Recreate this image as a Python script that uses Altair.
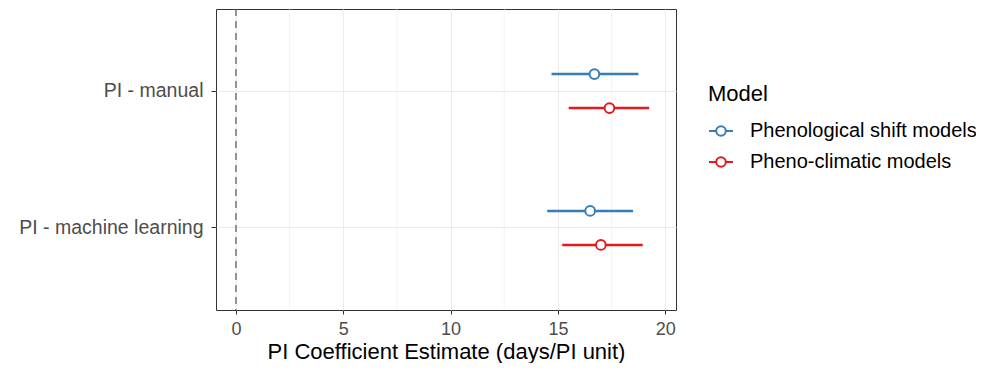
import altair as alt
import pandas as pd

terms = ["PI - manual", "PI - manual", "PI - machine learning", "PI - machine learning"]
models = ["Phenological shift models", "Pheno-climatic models",
          "Phenological shift models", "Pheno-climatic models"]
estimate = [16.7, 17.4, 16.5, 17.0]
lower = [14.7, 15.5, 14.5, 15.2]
upper = [18.75, 19.25, 18.5, 18.95]

term_order = ["PI - manual", "PI - machine learning"]
model_order = ["Phenological shift models", "Pheno-climatic models"]
model_colors = ["#377EB8", "#E41A1C"]
x_ticks = [0, 5, 10, 15, 20]
minor_grid = [2.5, 7.5, 12.5, 17.5]
ref_line = [0]

df = pd.DataFrame({"term": terms, "model": models, "estimate": estimate,
                   "lower": lower, "upper": upper})
minor_df = pd.DataFrame({"x": minor_grid})
ref_df = pd.DataFrame({"x": ref_line})

FONT = "Liberation Sans"

xscale = alt.Scale(domain=[-0.93, 20.5], nice=False, zero=False)
yscale = alt.Scale(type="band", paddingInner=0.4, paddingOuter=0.3)
offscale = alt.Scale(paddingInner=0, paddingOuter=0.206)
color = alt.Color(
    "model:N", sort=model_order,
    scale=alt.Scale(domain=model_order, range=model_colors),
    legend=alt.Legend(
        title="Model", orient="none", legendX=492, legendY=75,
        symbolType="M-1,0L-0.4,0M0.4,0L1,0M0.4,0A0.4,0.4 0 1,1 -0.4,0A0.4,0.4 0 1,1 0.4,0",
        symbolSize=576, symbolStrokeWidth=2, symbolFillColor="white",
        titleFontSize=22, titleFont=FONT, titleFontWeight="normal", titleColor="black",
        labelFontSize=20, labelFont=FONT, labelColor="black", labelLimit=0,
        rowPadding=8, titlePadding=12, labelOffset=16,
    ),
)

x_enc = alt.X("estimate:Q", scale=xscale,
              axis=alt.Axis(values=x_ticks, title="PI Coefficient Estimate (days/PI unit)",
                            grid=True, gridColor="#EBEBEB", gridWidth=1,
                            domain=False, tickColor="#333333", tickSize=4,
                            labelColor="#4D4D4D", labelFontSize=18, labelFont=FONT,
                            labelPadding=6,
                            titleFont=FONT, titleFontSize=22, titleFontWeight="normal",
                            titleColor="black", titlePadding=3))
y_enc = alt.Y("term:N", sort=term_order, scale=yscale,
              axis=alt.Axis(title=None, grid=True, gridColor="#EBEBEB", gridWidth=1,
                            bandPosition=0.5, domain=False, tickColor="#333333",
                            tickSize=5, labelColor="#4D4D4D", labelFontSize=19.5,
                            labelFont=FONT, labelPadding=8, labelLimit=0))

minor = alt.Chart(minor_df).mark_rule(color="#EBEBEB", strokeWidth=0.6).encode(
    x=alt.X("x:Q", scale=xscale))
ref = alt.Chart(ref_df).mark_rule(color="#333333", strokeWidth=1, strokeDash=[7, 5]).encode(
    x=alt.X("x:Q", scale=xscale))

bars = alt.Chart(df).mark_rule(strokeWidth=2.5).encode(
    x=alt.X("lower:Q", scale=xscale),
    x2="upper:Q",
    y=y_enc,
    yOffset=alt.YOffset("model:N", sort=model_order, scale=offscale),
    color=color,
)
points = alt.Chart(df).mark_point(filled=False, fill="white", size=95, strokeWidth=2,
                                  opacity=1, fillOpacity=1).encode(
    x=x_enc,
    y=y_enc,
    yOffset=alt.YOffset("model:N", sort=model_order, scale=offscale),
    color=color,
)

chart = alt.layer(minor, ref, bars, points).properties(
    width=460, height=301,
    background="white",
    autosize=alt.AutoSizeParams(type="none"),
    padding={"left": 208, "top": 1, "right": 300, "bottom": 53},
).configure_view(stroke="#333333", strokeWidth=1)

chart.save("out.html", embed_options={"renderer": "svg", "actions": False})
